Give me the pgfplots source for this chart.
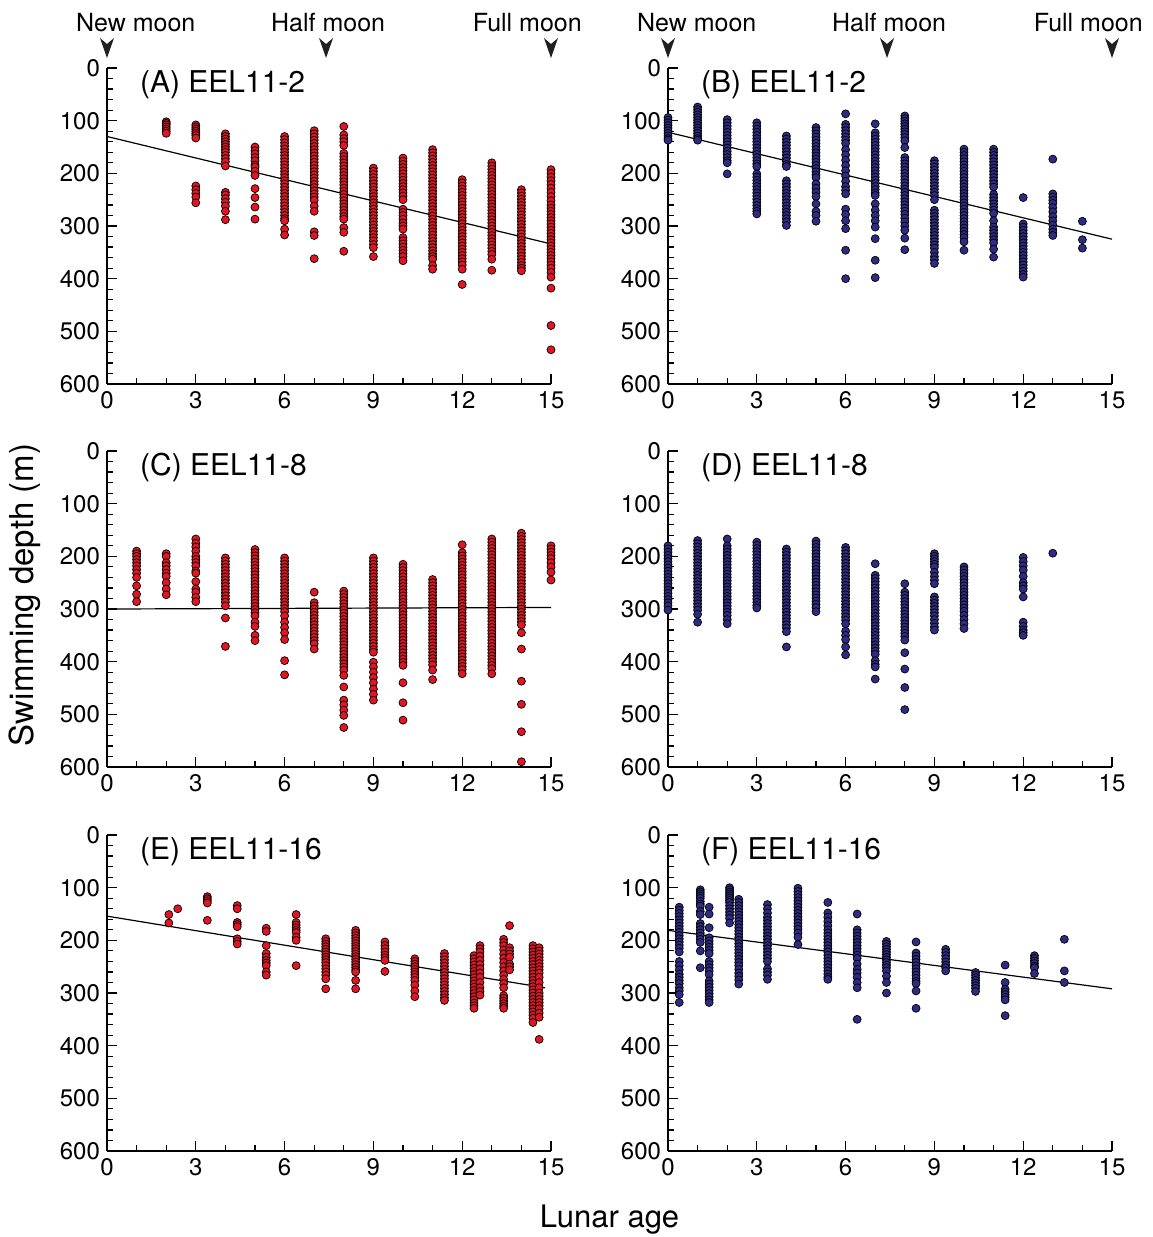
\documentclass[border=0pt]{standalone}
\usepackage{fontspec}
\setmainfont{TeX Gyre Heros}
\usepackage{pgfplots}
\pgfplotsset{compat=1.18}
\definecolor{rd}{RGB}{226,22,34}
\definecolor{bl}{RGB}{46,44,130}
\definecolor{ar}{RGB}{35,31,32}
\pgfplotsset{
 pan/.style={width=222pt,height=158pt,scale only axis,
  xmin=0,xmax=15,ymin=0,ymax=600,y dir=reverse,
  axis x line*=bottom, axis y line*=left,
  axis line style={-,line width=0.9pt}, x axis line style={-}, y axis line style={-},
  xtick={0,3,...,15}, ytick={0,100,...,600},
  minor x tick num=2, minor y tick num=4,
  tick align=inside, major tick length=5pt, minor tick length=3pt,
  every tick/.style={black,line width=0.6pt},
  tick label style={font=\fontsize{12}{12}\selectfont},
  /pgf/number format/assume math mode=true,
  clip=false},
 rp/.style={only marks,mark=*,mark size=2pt,mark options={fill=rd,draw=black,line width=0.35pt}},
 bp/.style={only marks,mark=*,mark size=2pt,mark options={fill=bl,draw=black,line width=0.35pt}},
 fitl/.style={black,line width=0.6pt,no marks}
}
\tikzset{
 plab/.style={anchor=base west,font=\fontsize{15}{15}\selectfont},
 mlab/.style={anchor=base,font=\fontsize{12.5}{12.5}\selectfont}
}
\begin{document}
\begin{tikzpicture}
\path[use as bounding box] (0pt,0pt) rectangle (576pt,-618.5pt);
% ---------------- (A)
\begin{axis}[pan,at={(53.5pt,-192pt)}]
\addplot[rp] coordinates {
(2,102)(2,105)(2,108)(2,112)(2,116)(2,120)(2,124)
(3,108)(3,112)(3,116)(3,120)(3,124)(3,128)(3,133)(3,224)(3,231)(3,238)(3,245)(3,256)
(4,125)(4,130)(4,135)(4,140)(4,145)(4,150)(4,155)(4,160)(4,166)(4,172)(4,178)(4,186)(4,236)(4,241)(4,248)(4,255)(4,262)(4,272)(4,288)
(5,150)(5,157)(5,163)(5,170)(5,176)(5,184)(5,188)(5,196)(5,204)(5,229)(5,246)(5,264)(5,287)
(6,130)(6,136)(6,142)(6,148)(6,154)(6,160)(6,166)(6,172)(6,178)(6,184)(6,190)(6,196)(6,202)(6,208)(6,214)(6,220)(6,226)(6,232)(6,238)(6,244)(6,250)(6,256)(6,262)(6,268)(6,274)(6,280)(6,286)(6,290)(6,306)(6,317)
(7,119)(7,125)(7,131)(7,137)(7,143)(7,149)(7,155)(7,161)(7,167)(7,173)(7,179)(7,185)(7,191)(7,197)(7,203)(7,209)(7,215)(7,221)(7,227)(7,233)(7,239)(7,245)(7,251)(7,262)(7,272)(7,311)(7,318)(7,362)
(8,111)(8,127)(8,134)(8,140)(8,147)(8,162)(8,168)(8,174)(8,180)(8,186)(8,192)(8,198)(8,204)(8,210)(8,216)(8,222)(8,228)(8,234)(8,240)(8,246)(8,252)(8,258)(8,264)(8,270)(8,276)(8,282)(8,287)(8,303)(8,312)(8,348)
(9,190)(9,196)(9,202)(9,208)(9,214)(9,220)(9,226)(9,232)(9,238)(9,244)(9,250)(9,256)(9,262)(9,268)(9,274)(9,280)(9,286)(9,292)(9,298)(9,304)(9,310)(9,316)(9,322)(9,328)(9,335)(9,341)(9,358)
(10,171)(10,177)(10,183)(10,189)(10,195)(10,201)(10,207)(10,213)(10,219)(10,225)(10,231)(10,237)(10,243)(10,250)(10,268)(10,274)(10,280)(10,287)(10,294)(10,300)(10,306)(10,322)(10,328)(10,334)(10,340)(10,346)(10,352)(10,358)(10,366)
(11,155)(11,161)(11,167)(11,173)(11,179)(11,185)(11,191)(11,197)(11,203)(11,209)(11,215)(11,221)(11,227)(11,233)(11,239)(11,245)(11,251)(11,257)(11,263)(11,269)(11,275)(11,281)(11,287)(11,293)(11,299)(11,305)(11,311)(11,317)(11,323)(11,329)(11,335)(11,341)(11,347)(11,353)(11,358)(11,363)(11,375)(11,382)
(12,212)(12,218)(12,224)(12,230)(12,236)(12,242)(12,248)(12,254)(12,260)(12,266)(12,272)(12,278)(12,284)(12,290)(12,296)(12,302)(12,308)(12,314)(12,320)(12,326)(12,332)(12,338)(12,344)(12,350)(12,356)(12,362)(12,368)(12,374)(12,382)(12,411)
(13,180)(13,186)(13,192)(13,198)(13,204)(13,210)(13,216)(13,222)(13,228)(13,234)(13,240)(13,246)(13,252)(13,258)(13,264)(13,270)(13,276)(13,282)(13,288)(13,294)(13,300)(13,306)(13,312)(13,318)(13,324)(13,330)(13,336)(13,342)(13,348)(13,354)(13,363)(13,384)
(14,231)(14,237)(14,243)(14,249)(14,255)(14,261)(14,267)(14,273)(14,279)(14,285)(14,291)(14,297)(14,303)(14,309)(14,315)(14,321)(14,327)(14,333)(14,339)(14,345)(14,351)(14,357)(14,363)(14,369)(14,375)(14,380)(14,385)
(15,193)(15,200)(15,207)(15,214)(15,221)(15,228)(15,236)(15,244)(15,252)(15,260)(15,266)(15,272)(15,278)(15,284)(15,290)(15,296)(15,302)(15,308)(15,314)(15,320)(15,326)(15,332)(15,338)(15,344)(15,350)(15,356)(15,362)(15,368)(15,374)(15,380)(15,388)(15,397)(15,418)(15,489)(15,535)
};
\addplot[fitl] coordinates {(0,130)(15,334)};
\node[plab] at (axis cs:0.88,47) {(A) EEL11-2};
\node[mlab] at (axis cs:0.97,-70) {New moon};
\node[mlab] at (axis cs:7.47,-70) {Half moon};
\node[mlab] at (axis cs:14.2,-70) {Full moon};
\fill[ar] (axis cs:0,-19) -- ++(-3.5pt,10pt) -- ++(3.5pt,-3pt) -- ++(3.5pt,3pt) -- cycle;
\fill[ar] (axis cs:7.4,-19) -- ++(-3.5pt,10pt) -- ++(3.5pt,-3pt) -- ++(3.5pt,3pt) -- cycle;
\fill[ar] (axis cs:15,-19) -- ++(-3.5pt,10pt) -- ++(3.5pt,-3pt) -- ++(3.5pt,3pt) -- cycle;
\end{axis}
% ---------------- (B)
\begin{axis}[pan,at={(334pt,-192pt)}]
\addplot[bp] coordinates {
(0,94)(0,99)(0,104)(0,109)(0,114)(0,119)(0,124)(0,129)(0,134)(0,137)
(1,74)(1,79)(1,84)(1,89)(1,94)(1,99)(1,104)(1,109)(1,114)(1,119)(1,124)(1,129)(1,134)(1,137)
(2,98)(2,104)(2,110)(2,116)(2,122)(2,128)(2,134)(2,140)(2,146)(2,152)(2,158)(2,164)(2,170)(2,176)(2,180)(2,201)
(3,104)(3,110)(3,116)(3,122)(3,128)(3,134)(3,140)(3,146)(3,152)(3,158)(3,164)(3,170)(3,176)(3,182)(3,187)(3,201)(3,207)(3,213)(3,219)(3,225)(3,231)(3,237)(3,243)(3,249)(3,255)(3,261)(3,267)(3,272)(3,277)
(4,129)(4,135)(4,141)(4,147)(4,153)(4,159)(4,165)(4,171)(4,177)(4,183)(4,187)(4,214)(4,220)(4,226)(4,232)(4,238)(4,244)(4,250)(4,256)(4,262)(4,268)(4,274)(4,280)(4,286)(4,292)(4,299)
(5,113)(5,119)(5,125)(5,131)(5,137)(5,143)(5,149)(5,155)(5,161)(5,167)(5,173)(5,179)(5,185)(5,191)(5,197)(5,203)(5,208)(5,220)(5,228)(5,236)(5,244)(5,258)(5,272)(5,280)(5,291)
(6,87)(6,107)(6,113)(6,119)(6,125)(6,131)(6,137)(6,143)(6,155)(6,165)(6,175)(6,185)(6,195)(6,205)(6,215)(6,225)(6,232)(6,239)(6,268)(6,278)(6,290)(6,305)(6,346)(6,400)
(7,106)(7,123)(7,129)(7,135)(7,141)(7,147)(7,153)(7,159)(7,165)(7,171)(7,177)(7,183)(7,189)(7,195)(7,201)(7,207)(7,213)(7,219)(7,225)(7,231)(7,237)(7,242)(7,258)(7,270)(7,280)(7,290)(7,302)(7,324)(7,365)(7,398)
(8,91)(8,96)(8,101)(8,106)(8,111)(8,116)(8,121)(8,126)(8,132)(8,138)(8,151)(8,170)(8,176)(8,182)(8,188)(8,194)(8,200)(8,206)(8,212)(8,218)(8,224)(8,230)(8,236)(8,242)(8,248)(8,254)(8,260)(8,266)(8,272)(8,278)(8,285)(8,292)(8,300)(8,308)(8,323)(8,345)
(9,176)(9,182)(9,188)(9,194)(9,200)(9,206)(9,212)(9,218)(9,224)(9,230)(9,236)(9,242)(9,250)(9,270)(9,276)(9,282)(9,288)(9,294)(9,300)(9,306)(9,312)(9,318)(9,324)(9,330)(9,336)(9,342)(9,350)(9,358)(9,364)(9,371)
(10,154)(10,160)(10,166)(10,172)(10,178)(10,184)(10,190)(10,196)(10,202)(10,208)(10,214)(10,220)(10,226)(10,232)(10,238)(10,244)(10,250)(10,256)(10,262)(10,268)(10,274)(10,280)(10,286)(10,292)(10,298)(10,304)(10,310)(10,316)(10,322)(10,330)(10,346)
(11,154)(11,160)(11,166)(11,172)(11,178)(11,184)(11,190)(11,196)(11,202)(11,208)(11,214)(11,220)(11,226)(11,240)(11,246)(11,252)(11,258)(11,264)(11,270)(11,276)(11,290)(11,302)(11,308)(11,314)(11,320)(11,326)(11,332)(11,344)(11,359)
(12,246)(12,296)(12,302)(12,308)(12,314)(12,320)(12,326)(12,332)(12,338)(12,344)(12,350)(12,356)(12,362)(12,368)(12,374)(12,380)(12,386)(12,392)(12,397)
(13,173)(13,239)(13,245)(13,251)(13,257)(13,265)(13,273)(13,282)(13,290)(13,298)(13,306)(13,312)(13,318)
(14,291)(14,326)(14,342)
};
\addplot[fitl] coordinates {(0,122)(15,325)};
\node[plab] at (axis cs:0.88,47) {(B) EEL11-2};
\node[mlab] at (axis cs:0.97,-70) {New moon};
\node[mlab] at (axis cs:7.47,-70) {Half moon};
\node[mlab] at (axis cs:14.2,-70) {Full moon};
\fill[ar] (axis cs:0,-19) -- ++(-3.5pt,10pt) -- ++(3.5pt,-3pt) -- ++(3.5pt,3pt) -- cycle;
\fill[ar] (axis cs:7.4,-19) -- ++(-3.5pt,10pt) -- ++(3.5pt,-3pt) -- ++(3.5pt,3pt) -- cycle;
\fill[ar] (axis cs:15,-19) -- ++(-3.5pt,10pt) -- ++(3.5pt,-3pt) -- ++(3.5pt,3pt) -- cycle;
\end{axis}
% ---------------- (C)
\begin{axis}[pan,at={(53.5pt,-383.5pt)}]
\addplot[rp] coordinates {
(1,190)(1,195)(1,200)(1,206)(1,212)(1,218)(1,225)(1,232)(1,240)(1,256)(1,272)(1,286)
(2,195)(2,200)(2,212)(2,218)(2,225)(2,232)(2,238)(2,250)(2,262)(2,273)
(3,167)(3,175)(3,182)(3,190)(3,200)(3,206)(3,212)(3,218)(3,228)(3,232)(3,248)(3,262)(3,268)(3,278)(3,286)
(4,203)(4,209)(4,215)(4,221)(4,227)(4,233)(4,239)(4,245)(4,251)(4,257)(4,263)(4,269)(4,275)(4,281)(4,287)(4,294)(4,317)(4,371)
(5,187)(5,193)(5,199)(5,205)(5,211)(5,217)(5,223)(5,229)(5,235)(5,241)(5,247)(5,253)(5,259)(5,265)(5,271)(5,277)(5,283)(5,289)(5,295)(5,301)(5,307)(5,313)(5,325)(5,333)(5,350)(5,360)
(6,203)(6,209)(6,215)(6,221)(6,227)(6,233)(6,239)(6,245)(6,251)(6,257)(6,263)(6,269)(6,275)(6,281)(6,287)(6,293)(6,299)(6,305)(6,313)(6,325)(6,335)(6,345)(6,358)(6,398)(6,425)
(7,268)(7,288)(7,294)(7,300)(7,306)(7,312)(7,318)(7,324)(7,330)(7,336)(7,342)(7,348)(7,354)(7,360)(7,366)(7,376)
(8,266)(8,272)(8,278)(8,284)(8,290)(8,296)(8,302)(8,308)(8,314)(8,320)(8,326)(8,332)(8,338)(8,344)(8,350)(8,356)(8,362)(8,368)(8,374)(8,380)(8,386)(8,392)(8,398)(8,404)(8,410)(8,416)(8,426)(8,448)(8,473)(8,482)(8,492)(8,502)(8,525)
(9,203)(9,209)(9,215)(9,221)(9,227)(9,233)(9,239)(9,245)(9,251)(9,257)(9,263)(9,269)(9,275)(9,281)(9,287)(9,293)(9,299)(9,305)(9,311)(9,317)(9,323)(9,329)(9,335)(9,341)(9,347)(9,353)(9,359)(9,365)(9,371)(9,377)(9,382)(9,401)(9,410)(9,420)(9,430)(9,440)(9,452)(9,462)(9,473)
(10,215)(10,221)(10,227)(10,233)(10,239)(10,245)(10,251)(10,257)(10,263)(10,269)(10,275)(10,281)(10,287)(10,293)(10,299)(10,305)(10,311)(10,317)(10,323)(10,329)(10,335)(10,341)(10,347)(10,353)(10,359)(10,365)(10,371)(10,377)(10,383)(10,389)(10,395)(10,401)(10,407)(10,440)(10,478)(10,511)
(11,244)(11,250)(11,256)(11,262)(11,268)(11,274)(11,280)(11,286)(11,292)(11,298)(11,304)(11,310)(11,316)(11,322)(11,328)(11,334)(11,340)(11,346)(11,352)(11,358)(11,364)(11,370)(11,376)(11,382)(11,388)(11,394)(11,400)(11,406)(11,416)(11,434)
(12,178)(12,193)(12,199)(12,205)(12,211)(12,217)(12,223)(12,229)(12,235)(12,241)(12,247)(12,253)(12,259)(12,265)(12,271)(12,277)(12,283)(12,289)(12,295)(12,301)(12,307)(12,313)(12,319)(12,325)(12,331)(12,337)(12,343)(12,349)(12,355)(12,361)(12,367)(12,373)(12,379)(12,385)(12,391)(12,397)(12,403)(12,409)(12,415)(12,423)
(13,167)(13,173)(13,179)(13,185)(13,191)(13,197)(13,203)(13,209)(13,215)(13,221)(13,227)(13,233)(13,239)(13,245)(13,251)(13,257)(13,263)(13,269)(13,275)(13,281)(13,287)(13,293)(13,299)(13,305)(13,311)(13,317)(13,323)(13,329)(13,335)(13,341)(13,347)(13,353)(13,359)(13,365)(13,371)(13,377)(13,383)(13,389)(13,395)(13,401)(13,407)(13,413)(13,423)
(14,156)(14,162)(14,168)(14,174)(14,180)(14,186)(14,192)(14,198)(14,204)(14,210)(14,216)(14,222)(14,228)(14,234)(14,240)(14,246)(14,252)(14,258)(14,264)(14,270)(14,276)(14,282)(14,288)(14,294)(14,300)(14,306)(14,312)(14,318)(14,324)(14,330)(14,345)(14,376)(14,437)(14,481)(14,533)(14,590)
(15,180)(15,186)(15,192)(15,198)(15,204)(15,212)(15,220)(15,230)(15,245)
};
\addplot[fitl] coordinates {(0,300)(15,297)};
\node[plab] at (axis cs:0.88,47) {(C) EEL11-8};
\end{axis}
% ---------------- (D)
\begin{axis}[pan,at={(334pt,-383.5pt)}]
\addplot[bp] coordinates {
(0,180)(0,186)(0,192)(0,198)(0,204)(0,210)(0,216)(0,222)(0,228)(0,234)(0,240)(0,246)(0,252)(0,258)(0,264)(0,270)(0,276)(0,282)(0,288)(0,294)(0,302)
(1,170)(1,176)(1,182)(1,188)(1,194)(1,200)(1,206)(1,212)(1,218)(1,224)(1,230)(1,236)(1,242)(1,248)(1,254)(1,260)(1,266)(1,272)(1,278)(1,284)(1,290)(1,296)(1,302)(1,310)(1,325)
(2,167)(2,180)(2,186)(2,192)(2,198)(2,204)(2,210)(2,216)(2,222)(2,228)(2,234)(2,240)(2,246)(2,252)(2,258)(2,264)(2,270)(2,276)(2,282)(2,288)(2,294)(2,300)(2,306)(2,312)(2,320)(2,328)
(3,173)(3,179)(3,185)(3,191)(3,197)(3,203)(3,209)(3,215)(3,221)(3,227)(3,233)(3,239)(3,245)(3,251)(3,257)(3,263)(3,269)(3,275)(3,281)(3,287)(3,293)(3,298)
(4,186)(4,192)(4,198)(4,204)(4,210)(4,216)(4,222)(4,228)(4,234)(4,240)(4,246)(4,252)(4,258)(4,264)(4,270)(4,276)(4,282)(4,288)(4,294)(4,300)(4,306)(4,312)(4,318)(4,324)(4,330)(4,336)(4,343)(4,372)
(5,171)(5,177)(5,183)(5,189)(5,195)(5,201)(5,207)(5,213)(5,219)(5,225)(5,231)(5,237)(5,243)(5,249)(5,255)(5,261)(5,267)(5,273)(5,279)(5,285)(5,291)(5,297)(5,305)
(6,183)(6,189)(6,195)(6,201)(6,207)(6,213)(6,219)(6,225)(6,231)(6,237)(6,243)(6,249)(6,255)(6,261)(6,267)(6,273)(6,279)(6,285)(6,291)(6,297)(6,303)(6,309)(6,315)(6,321)(6,328)(6,342)(6,350)(6,358)(6,372)(6,387)
(7,214)(7,236)(7,242)(7,248)(7,254)(7,260)(7,266)(7,272)(7,278)(7,284)(7,290)(7,296)(7,302)(7,308)(7,314)(7,320)(7,326)(7,332)(7,338)(7,344)(7,350)(7,356)(7,362)(7,368)(7,374)(7,380)(7,386)(7,398)(7,405)(7,410)(7,433)
(8,252)(8,268)(8,274)(8,280)(8,286)(8,292)(8,298)(8,304)(8,310)(8,316)(8,322)(8,328)(8,334)(8,340)(8,346)(8,352)(8,359)(8,383)(8,414)(8,449)(8,491)
(9,195)(9,200)(9,205)(9,210)(9,215)(9,220)(9,230)(9,238)(9,245)(9,252)(9,277)(9,283)(9,289)(9,295)(9,301)(9,307)(9,313)(9,320)(9,327)(9,334)(9,340)
(10,220)(10,226)(10,232)(10,238)(10,244)(10,250)(10,256)(10,262)(10,268)(10,274)(10,280)(10,286)(10,292)(10,298)(10,304)(10,312)(10,320)(10,328)(10,337)
(12,202)(12,210)(12,218)(12,226)(12,238)(12,250)(12,256)(12,262)(12,277)(12,325)(12,333)(12,340)(12,345)(12,350)
(13,194)
};
\node[plab] at (axis cs:0.88,47) {(D) EEL11-8};
\end{axis}
% ---------------- (E)
\begin{axis}[pan,at={(53.5pt,-575.5pt)}]
\addplot[rp] coordinates {
(2.09,151)(2.09,167)(2.39,140)
(3.39,117)(3.39,121)(3.39,125)(3.39,129)(3.39,162)
(4.40,134)(4.40,140)(4.40,166)(4.40,170)(4.40,174)(4.40,197)(4.40,202)(4.40,207)
(5.38,177)(5.38,183)(5.38,210)(5.38,225)(5.38,232)(5.38,238)(5.38,243)(5.38,248)(5.38,260)(5.38,266)
(6.39,151)(6.39,166)(6.39,171)(6.39,176)(6.39,181)(6.39,185)(6.39,194)(6.39,200)(6.39,248)
(7.39,197)(7.39,202)(7.39,207)(7.39,212)(7.39,217)(7.39,222)(7.39,227)(7.39,232)(7.39,237)(7.39,242)(7.39,248)(7.39,254)(7.39,260)(7.39,266)(7.39,273)(7.39,292)
(8.40,181)(8.40,186)(8.40,191)(8.40,196)(8.40,201)(8.40,206)(8.40,211)(8.40,216)(8.40,221)(8.40,226)(8.40,231)(8.40,236)(8.40,241)(8.40,246)(8.40,251)(8.40,256)(8.40,260)(8.40,276)(8.40,292)
(9.39,203)(9.39,210)(9.39,216)(9.39,222)(9.39,228)(9.39,233)(9.39,238)(9.39,259)
(10.40,235)(10.40,240)(10.40,245)(10.40,250)(10.40,255)(10.40,260)(10.40,265)(10.40,270)(10.40,276)(10.40,285)(10.40,296)(10.40,307)
(11.40,225)(11.40,231)(11.40,237)(11.40,243)(11.40,249)(11.40,255)(11.40,261)(11.40,267)(11.40,273)(11.40,279)(11.40,285)(11.40,291)(11.40,297)(11.40,303)(11.40,309)(11.40,314)
(12.40,229)(12.40,235)(12.40,241)(12.40,247)(12.40,253)(12.40,259)(12.40,265)(12.40,271)(12.40,277)(12.40,283)(12.40,289)(12.40,295)(12.40,301)(12.40,307)(12.40,313)(12.40,319)(12.40,324)(12.40,329)
(12.60,210)(12.60,216)(12.60,222)(12.60,230)(12.60,238)(12.60,246)(12.60,254)(12.60,262)(12.60,270)(12.60,280)(12.60,290)(12.60,297)(12.60,304)
(13.40,198)(13.40,204)(13.40,210)(13.40,218)(13.40,226)(13.40,234)(13.40,242)(13.40,250)(13.40,258)(13.40,266)(13.40,274)(13.40,282)(13.40,290)(13.40,305)(13.40,310)(13.40,315)(13.40,320)(13.40,325)(13.40,329)
(13.60,172)(13.60,214)(13.60,220)(13.60,226)(13.60,232)(13.60,245)(13.60,250)(13.60,256)
(14.39,210)(14.39,216)(14.39,222)(14.39,228)(14.39,234)(14.39,240)(14.39,246)(14.39,252)(14.39,258)(14.39,264)(14.39,270)(14.39,276)(14.39,282)(14.39,288)(14.39,294)(14.39,300)(14.39,306)(14.39,312)(14.39,318)(14.39,324)(14.39,330)(14.39,336)(14.39,342)(14.39,348)(14.39,356)
(14.60,214)(14.60,220)(14.60,226)(14.60,232)(14.60,238)(14.60,244)(14.60,250)(14.60,256)(14.60,262)(14.60,270)(14.60,280)(14.60,290)(14.60,300)(14.60,306)(14.60,312)(14.60,318)(14.60,324)(14.60,330)(14.60,338)(14.60,346)(14.60,388)
};
\addplot[fitl] coordinates {(0,154)(14.8,290)};
\node[plab] at (axis cs:0.88,47) {(E) EEL11-16};
\end{axis}
% ---------------- (F)
\begin{axis}[pan,at={(334pt,-575.5pt)}]
\addplot[bp] coordinates {
(0.38,137)(0.38,143)(0.38,149)(0.38,155)(0.38,161)(0.38,167)(0.38,173)(0.38,179)(0.38,185)(0.38,191)(0.38,197)(0.38,203)(0.38,209)(0.38,215)(0.38,222)(0.38,240)(0.38,248)(0.38,256)(0.38,264)(0.38,270)(0.38,276)(0.38,282)(0.38,290)(0.38,296)(0.38,303)(0.38,318)
(1.09,104)(1.09,108)(1.09,112)(1.09,116)(1.09,120)(1.09,126)(1.09,131)(1.09,135)(1.09,145)(1.09,151)(1.09,168)(1.09,174)(1.09,180)(1.09,186)(1.09,192)(1.09,198)(1.09,204)(1.09,220)(1.09,252)
(1.39,137)(1.39,150)(1.39,176)(1.39,195)(1.39,201)(1.39,207)(1.39,213)(1.39,219)(1.39,225)(1.39,240)(1.39,246)(1.39,252)(1.39,258)(1.39,265)(1.39,277)(1.39,283)(1.39,289)(1.39,295)(1.39,301)(1.39,307)(1.39,313)(1.39,318)
(2.08,100)(2.08,104)(2.08,108)(2.08,112)(2.08,116)(2.08,120)(2.08,124)(2.08,128)(2.08,134)(2.08,140)(2.08,146)(2.08,152)(2.08,158)(2.08,167)
(2.39,122)(2.39,128)(2.39,134)(2.39,140)(2.39,146)(2.39,152)(2.39,158)(2.39,164)(2.39,170)(2.39,176)(2.39,182)(2.39,188)(2.39,194)(2.39,200)(2.39,206)(2.39,212)(2.39,218)(2.39,224)(2.39,230)(2.39,236)(2.39,242)(2.39,248)(2.39,255)(2.39,262)(2.39,268)(2.39,275)(2.39,283)
(3.36,132)(3.36,140)(3.36,148)(3.36,156)(3.36,162)(3.36,168)(3.36,174)(3.36,180)(3.36,186)(3.36,192)(3.36,198)(3.36,204)(3.36,210)(3.36,216)(3.36,222)(3.36,228)(3.36,234)(3.36,240)(3.36,254)(3.36,260)(3.36,266)(3.36,274)
(4.39,101)(4.39,107)(4.39,113)(4.39,119)(4.39,125)(4.39,131)(4.39,137)(4.39,143)(4.39,149)(4.39,155)(4.39,161)(4.39,167)(4.39,173)(4.39,179)(4.39,186)(4.39,194)(4.39,208)
(5.40,128)(5.40,148)(5.40,156)(5.40,164)(5.40,172)(5.40,180)(5.40,186)(5.40,192)(5.40,198)(5.40,204)(5.40,210)(5.40,216)(5.40,222)(5.40,228)(5.40,234)(5.40,240)(5.40,246)(5.40,252)(5.40,258)(5.40,264)(5.40,270)(5.40,274)
(6.39,150)(6.39,180)(6.39,186)(6.39,192)(6.39,198)(6.39,204)(6.39,210)(6.39,216)(6.39,222)(6.39,228)(6.39,234)(6.39,245)(6.39,255)(6.39,262)(6.39,270)(6.39,280)(6.39,290)(6.39,350)
(7.38,202)(7.38,207)(7.38,212)(7.38,217)(7.38,222)(7.38,227)(7.38,232)(7.38,237)(7.38,242)(7.38,247)(7.38,252)(7.38,258)(7.38,268)(7.38,280)(7.38,300)
(8.38,203)(8.38,224)(8.38,230)(8.38,236)(8.38,242)(8.38,248)(8.38,254)(8.38,260)(8.38,266)(8.38,272)(8.38,278)(8.38,282)(8.38,296)(8.38,329)
(9.38,217)(9.38,223)(9.38,229)(9.38,235)(9.38,241)(9.38,247)(9.38,252)(9.38,258)
(10.39,261)(10.39,266)(10.39,271)(10.39,276)(10.39,281)(10.39,286)(10.39,291)(10.39,297)
(11.39,247)(11.39,280)(11.39,293)(11.39,298)(11.39,303)(11.39,308)(11.39,313)(11.39,343)
(12.38,229)(12.38,234)(12.38,239)(12.38,244)(12.38,249)(12.38,252)(12.38,263)
(13.39,198)(13.39,258)(13.39,280)
};
\addplot[fitl] coordinates {(0,181)(15,292)};
\node[plab] at (axis cs:0.88,47) {(F) EEL11-16};
\end{axis}
\node[rotate=90,font=\fontsize{16.5}{16.5}\selectfont] at (12.5pt,-297.5pt) {Swimming depth (m)};
\node[font=\fontsize{15.5}{15.5}\selectfont] at (304.75pt,-610pt) {Lunar age};
\end{tikzpicture}
\end{document}
